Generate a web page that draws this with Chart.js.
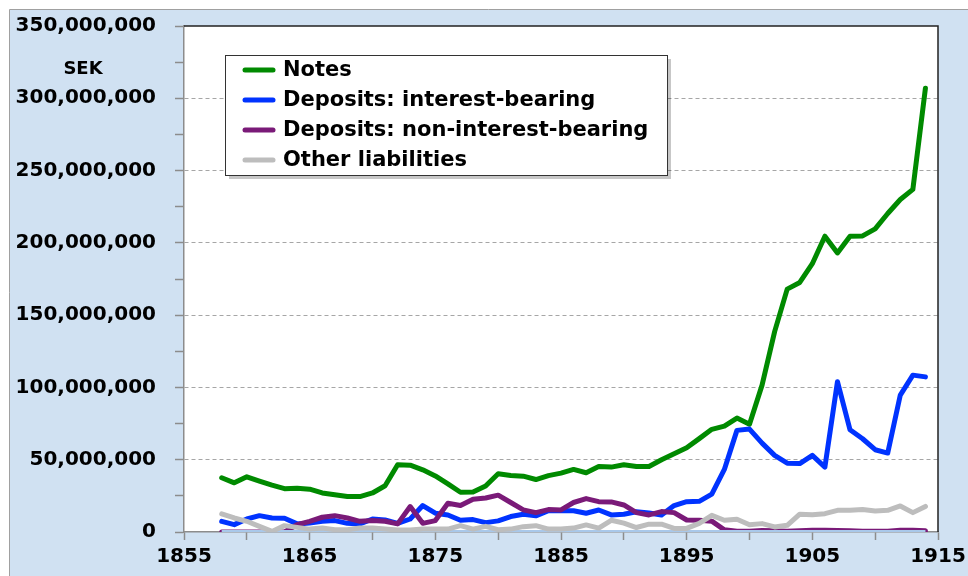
<!DOCTYPE html>
<html>
<head>
<meta charset="utf-8">
<script src="https://cdn.jsdelivr.net/npm/chart.js@4"></script>
<style>
  html, body { margin: 0; padding: 0; background: #fff; }
  #wrap { width: 968px; height: 576px; }
</style>
</head>
<body>
<div id="wrap"><canvas id="myChart" width="968" height="576"></canvas></div>
<script>
// years 1858 - 1914, values in millions of SEK
var years = [];
for (var y = 1858; y <= 1914; y++) years.push(y);

var notes = [37.5, 34, 38.2, 35.2, 32.4, 30, 30.3, 29.6, 27, 25.8,
             24.5, 24.5, 27, 32, 46.5, 46.2, 43, 38.8, 33.3, 27.5,
             27.7, 31.8, 40.3, 39.1, 38.6, 36.3, 39, 40.7, 43.3, 41,
             45.3, 44.9, 46.5, 45.3, 45.3, 50, 54.2, 58.3, 64.6, 71,
             73.2, 78.8, 74.6, 101.6, 138.6, 168, 172.6, 185.6, 204.6, 193,
             204.6, 204.8, 209.7, 220.3, 230, 237, 307];

var depInterest = [7.4, 5.1, 9, 11.3, 9.7, 9.5, 5.6, 6.2, 7.4, 7.9,
                   6, 5.6, 9, 8.3, 6, 9, 18.3, 13, 11.8, 8.1,
                   8.6, 6.5, 7.7, 10.7, 12.3, 11.2, 14.7, 14.7, 14.7, 13,
                   15.2, 11.8, 12.3, 14, 13.2, 11.8, 18.3, 21, 21.2, 26.2,
                   43.3, 70.3, 71.2, 61.5, 53, 47.6, 47.3, 53, 44.9, 104,
                   70.7, 64.5, 56.9, 54.6, 94.7, 108.5, 107.3];

var depNonInterest = [0, 0, 0, 0, 0, 0, 5, 7.4, 10.2, 11.3,
                      9.7, 7.4, 7.9, 7.4, 5.6, 17.6, 6, 7.9, 19.9, 18.3,
                      22.6, 23.5, 25.5, 20.4, 15.3, 13.4, 15.5, 15.3, 20.4, 23.1,
                      21, 20.8, 18.7, 13.4, 11.8, 14.1, 13.4, 8.3, 8.1, 7.5,
                      1.5, 0.5, 0.5, 1, 0.8, 0.5, 0.8, 1.2, 1.2, 1,
                      0.8, 0.6, 0.5, 0.6, 1.2, 1.2, 0.8];

var otherLiab = [12.5, 9.7, 7.4, 3.9, 0.4, 4.4, 3.2, 2, 2.7, 1.6,
                 1.6, 2.7, 2.7, 2, 1.4, 1.4, 2, 2, 2, 4.4,
                 2, 3.9, 1.6, 2, 3.7, 4.4, 2, 2, 2.7, 4.9,
                 2.7, 8.1, 6.1, 3.1, 5.4, 5.4, 2.5, 2.5, 6, 11.5,
                 8.1, 8.8, 5, 5.8, 3.5, 4.6, 12.3, 12, 12.7, 15,
                 15, 15.6, 14.6, 15, 18, 13.4, 17.7];

// series sitting on the zero line (pale blue in the original)
var baseLine = years.map(function(){ return 0; });

var labels = ['Notes', 'Deposits: interest-bearing', 'Deposits: non-interest-bearing', 'Other liabilities'];
var colors = ['#008a00', '#0033ff', '#7a1a78', '#bdbdbd'];

function pts(arr) {
    return years.map(function(yr, i){ return {x: yr, y: arr[i] * 1e6}; });
}

function fmt(v) {
    return String(v).replace(/\B(?=(\d{3})+(?!\d))/g, ',');
}

var font = 'DejaVu Sans';

/* fond bleu + zone blanche */
var bgPlugin = {
    id: 'bg',
    beforeDraw: function(chart) {
        var c = chart.ctx, a = chart.chartArea;
        c.save();
        c.fillStyle = '#ffffff';
        c.fillRect(0, 0, chart.width, chart.height);
        c.fillStyle = '#d0e1f2';
        c.fillRect(10, 10, chart.width, chart.height);
        c.strokeStyle = '#a0a0a0';
        c.lineWidth = 1;
        c.beginPath();
        c.moveTo(9.5, chart.height); c.lineTo(9.5, 9.5); c.lineTo(chart.width, 9.5);
        c.stroke();
        c.fillStyle = '#ffffff';
        c.fillRect(a.left, a.top, a.right - a.left, a.bottom - a.top);
        c.restore();
    },
    afterDraw: function(chart) {
        var c = chart.ctx, a = chart.chartArea;
        c.save();
        // top + right frame
        c.strokeStyle = '#222';
        c.lineWidth = 1.5;
        c.beginPath();
        c.moveTo(a.left, a.top); c.lineTo(a.right, a.top); c.lineTo(a.right, a.bottom);
        c.stroke();

        // SEK
        c.fillStyle = '#000';
        c.font = 'bold 18px "' + font + '"';
        c.textAlign = 'center';
        c.textBaseline = 'middle';
        c.fillText('SEK', 83, 69);

        // legend box
        var bx = 225, by = 55, bw = 442, bh = 120;
        c.fillStyle = 'rgba(0,0,0,0.22)';
        c.fillRect(bx + 4, by + 4, bw, bh);
        c.fillStyle = '#fff';
        c.fillRect(bx, by, bw, bh);
        c.strokeStyle = '#333';
        c.lineWidth = 1;
        c.strokeRect(bx + 0.5, by + 0.5, bw, bh);

        c.font = 'bold 21px "' + font + '"';
        c.textAlign = 'left';
        for (var i = 0; i < labels.length; i++) {
            var ry = 70 + i * 30;
            c.strokeStyle = colors[i];
            c.lineWidth = 5;
            c.lineCap = 'round';
            c.beginPath();
            c.moveTo(245, ry); c.lineTo(273, ry);
            c.stroke();
            c.fillStyle = '#000';
            c.fillText(labels[i], 283, ry + 1);
        }
        c.restore();
    }
};

var ds = [];
var orders = [5, 4, 3, 1];
for (var i = 0; i < labels.length; i++) {
    ds.push({
        label: labels[i],
        data: pts([notes, depInterest, depNonInterest, otherLiab][i]),
        borderColor: colors[i],
        backgroundColor: colors[i],
        borderWidth: 5,
        pointRadius: 0,
        tension: 0,
        borderJoinStyle: 'round',
        borderCapStyle: 'round',
        order: orders[i]
    });
}
ds.push({
    label: 'base',
    data: pts(baseLine),
    borderColor: '#a9c8ea',
    borderWidth: 4,
    pointRadius: 0,
    order: 2
});

var ctx = document.getElementById('myChart').getContext('2d');
var myChart = new Chart(ctx, {
    type: 'line',
    data: { datasets: ds },
    options: {
        responsive: false,
        animation: false,
        layout: { padding: { top: 26, right: 30, left: 0, bottom: 0 } },
        plugins: { legend: { display: false }, tooltip: { enabled: false } },
        scales: {
            x: {
                type: 'linear',
                min: 1855, max: 1915,
                afterFit: function(s){ s.height = 44; s.paddingLeft = 0; s.paddingRight = 0; },
                ticks: {
                    stepSize: 5,
                    autoSkip: false,
                    maxRotation: 0,
                    padding: 5,
                    color: '#000',
                    font: { family: font, size: 20, weight: 'bold' },
                    callback: function(v){ return (v - 1855) % 10 === 0 ? String(v) : ''; }
                },
                grid: { drawOnChartArea: false, tickLength: 8, tickColor: '#8c8c8c', tickWidth: 1.5 },
                border: { color: '#8c8c8c', width: 1.5 }
            },
            y: {
                min: 0, max: 350e6,
                afterFit: function(s){ s.width = 184; s.paddingTop = 0; s.paddingBottom = 0; },
                ticks: {
                    stepSize: 25e6,
                    autoSkip: false,
                    padding: 19,
                    color: '#000',
                    font: { family: font, size: 20, weight: 'bold' },
                    callback: function(v){ return v % 50e6 === 0 ? fmt(v) : ''; }
                },
                grid: {
                    tickLength: 9,
                    tickColor: '#8c8c8c',
                    tickWidth: 1.5,
                    color: function(c){
                        var v = c.tick ? c.tick.value : 0;
                        return (v % 50e6 === 0 && v > 0 && v < 350e6) ? '#a6a6a6' : 'rgba(0,0,0,0)';
                    }
                },
                border: { color: '#8c8c8c', width: 1.5, dash: [4, 3] }
            }
        }
    },
    plugins: [bgPlugin]
});
</script>
</body>
</html>
